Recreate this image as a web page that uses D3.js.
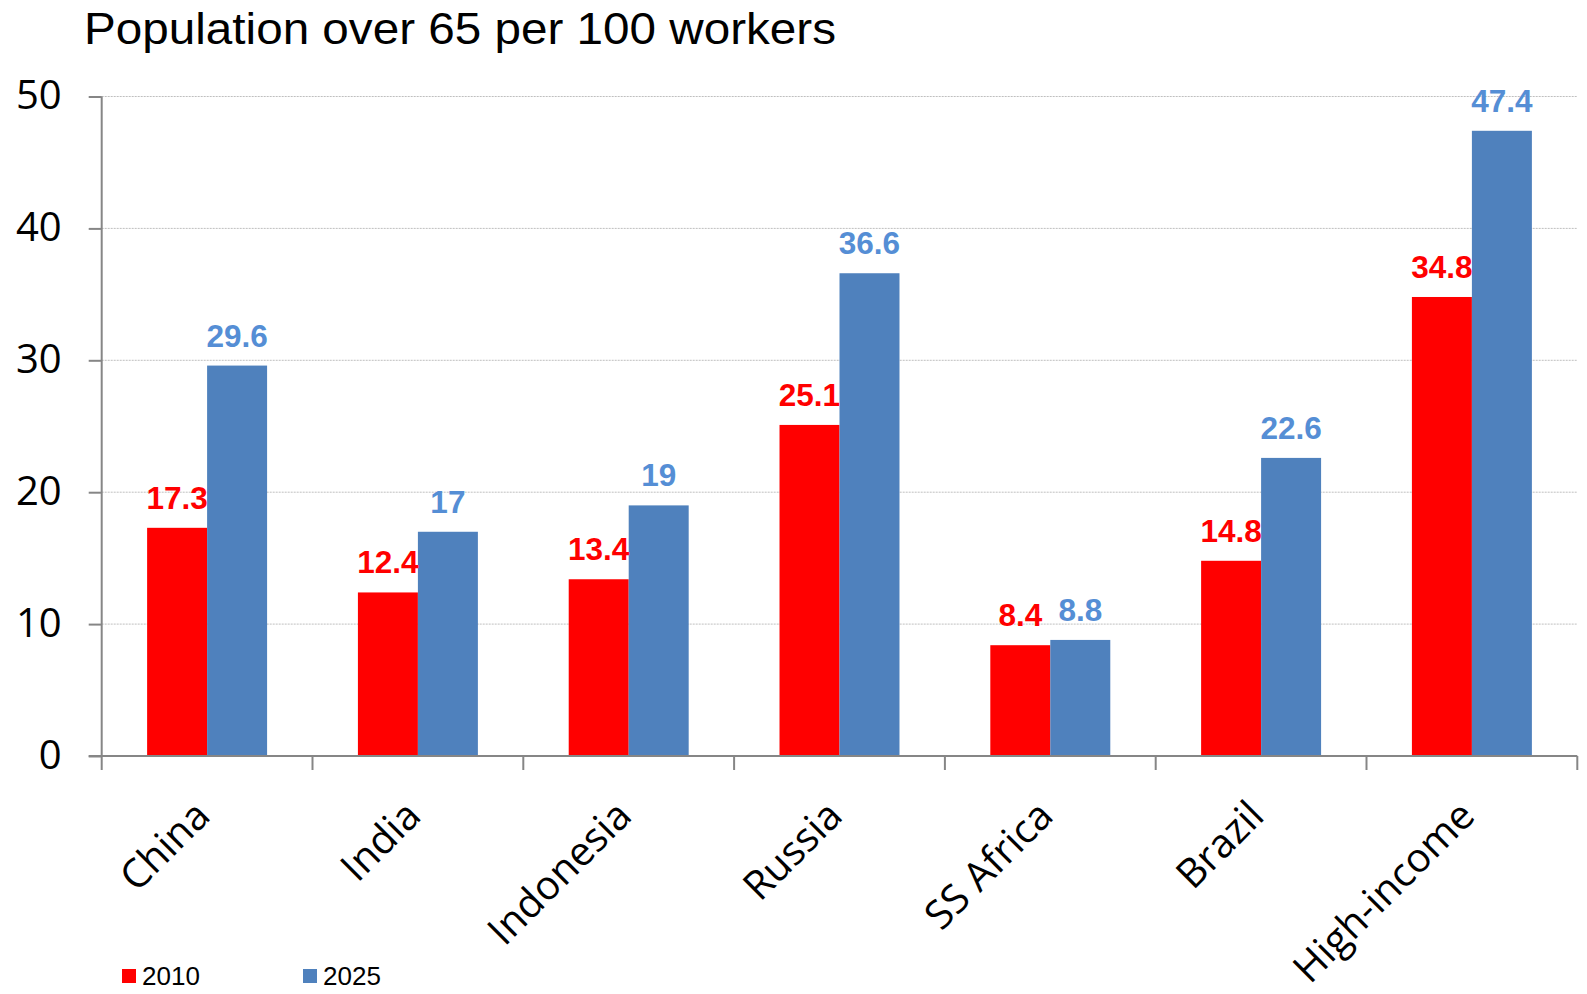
<!DOCTYPE html>
<html>
<head>
<meta charset="utf-8">
<script src="https://cdn.jsdelivr.net/npm/d3@7"></script>
<style>
  html, body { margin: 0; padding: 0; background: #fff; }
  svg { display: block; }
</style>
</head>
<body>
<svg id="chart" width="1587" height="994"></svg>
<script>
// Old-age dependency: population over 65 per 100 workers
const categories = ["China", "India", "Indonesia", "Russia", "SS Africa", "Brazil", "High-income"];
const seriesNames = ["2010", "2025"];
const values2010 = [17.3, 12.4, 13.4, 25.1, 8.4, 14.8, 34.8];
const values2025 = [29.6, 17, 19, 36.6, 8.8, 22.6, 47.4];
const yTicks = [0, 10, 20, 30, 40, 50];

const barColors = { "2010": "#FF0000", "2025": "#4F81BD" };
const labelColors = { "2010": "#FF0000", "2025": "#558ED5" };

const svg = d3.select("#chart");

const plotLeft = 101.7, plotRight = 1577.3, plotTop = 96.5, plotBottom = 756;

const x0 = d3.scaleBand().domain(categories).range([plotLeft, plotRight]).paddingInner(0).paddingOuter(0);
const x1 = d3.scaleBand().domain(seriesNames).range([0, x0.bandwidth()]).paddingInner(0).paddingOuter(0.757);
const y = d3.scaleLinear().domain([0, 50]).range([plotBottom, plotTop]);

const rows = categories.map((c, i) => ({
  category: c,
  items: [
    { series: "2010", value: values2010[i] },
    { series: "2025", value: values2025[i] }
  ]
}));

// Title
svg.append("text")
  .attr("x", 84).attr("y", 44)
  .attr("font-family", "Liberation Sans, Arial, sans-serif")
  .attr("font-size", 45)
  .attr("textLength", 752)
  .attr("lengthAdjust", "spacingAndGlyphs")
  .attr("fill", "#000")
  .text("Population over 65 per 100 workers");

// Horizontal gridlines
svg.append("g")
  .selectAll("line")
  .data(yTicks.filter(t => t > 0))
  .join("line")
  .attr("x1", plotLeft).attr("x2", plotRight)
  .attr("y1", d => y(d)).attr("y2", d => y(d))
  .attr("stroke", "#BFBFBF")
  .attr("stroke-width", 1)
  .attr("stroke-dasharray", "2,1");

// Bars
const groups = svg.append("g")
  .selectAll("g")
  .data(rows)
  .join("g")
  .attr("transform", d => `translate(${x0(d.category)},0)`);

groups.selectAll("rect")
  .data(d => d.items)
  .join("rect")
  .attr("x", d => x1(d.series))
  .attr("width", x1.bandwidth())
  .attr("y", d => y(d.value))
  .attr("height", d => y(0) - y(d.value))
  .attr("fill", d => barColors[d.series]);

// Value labels above bars
groups.selectAll("text")
  .data(d => d.items)
  .join("text")
  .attr("x", d => x1(d.series) + x1.bandwidth() / 2)
  .attr("y", d => y(d.value) - 19)
  .attr("text-anchor", "middle")
  .attr("font-family", "Liberation Sans, Arial, sans-serif")
  .attr("font-weight", "bold")
  .attr("font-size", 31.5)
  .attr("fill", d => labelColors[d.series])
  .text(d => String(d.value));

// Y axis
const yAxis = d3.axisLeft(y).tickValues(yTicks).tickSize(13).tickPadding(0).tickFormat(d3.format("d"));
const yAxisG = svg.append("g")
  .attr("transform", `translate(${plotLeft},0)`)
  .call(yAxis);
yAxisG.select(".domain").attr("stroke", "#868686").attr("stroke-width", 2)
  .attr("d", `M0,${plotTop}V${plotBottom}`);
yAxisG.selectAll(".tick line").attr("stroke", "#868686").attr("stroke-width", 2);
yAxisG.selectAll(".tick text")
  .attr("x", -40)
  .attr("dy", "0.3em")
  .attr("font-family", "Open Sans, sans-serif")
  .attr("font-weight", 500)
  .attr("font-size", 40)
  .attr("fill", "#000");

// X axis with ticks at category boundaries
const xAxisG = svg.append("g").attr("transform", `translate(0,${plotBottom})`);
xAxisG.append("line")
  .attr("x1", plotLeft - 13).attr("x2", plotRight)
  .attr("y1", 0).attr("y2", 0)
  .attr("stroke", "#868686").attr("stroke-width", 2);
const boundaries = categories.map(c => x0(c)).concat([plotRight]);
xAxisG.selectAll("line.bt")
  .data(boundaries)
  .join("line")
  .attr("class", "bt")
  .attr("x1", d => d).attr("x2", d => d)
  .attr("y1", 0).attr("y2", 14)
  .attr("stroke", "#868686").attr("stroke-width", 2);

// Rotated category labels
xAxisG.selectAll("text")
  .data(categories)
  .join("text")
  .attr("transform", d => `translate(${x0(d) + x0.bandwidth() / 2 + 5},62) rotate(-45)`)
  .attr("text-anchor", "end")
  .attr("font-family", "Open Sans, sans-serif")
  .attr("font-weight", 500)
  .attr("font-size", 40)
  .attr("fill", "#000")
  .text(d => d);

// Legend
const legend = svg.append("g").selectAll("g")
  .data(seriesNames)
  .join("g")
  .attr("transform", (d, i) => `translate(${122 + i * 181},969)`);
legend.append("rect")
  .attr("width", 14).attr("height", 14)
  .attr("fill", d => barColors[d]);
legend.append("text")
  .attr("x", 20).attr("y", 16)
  .attr("font-family", "Liberation Sans, Arial, sans-serif")
  .attr("font-size", 26)
  .attr("fill", "#000")
  .text(d => d);
</script>
</body>
</html>
